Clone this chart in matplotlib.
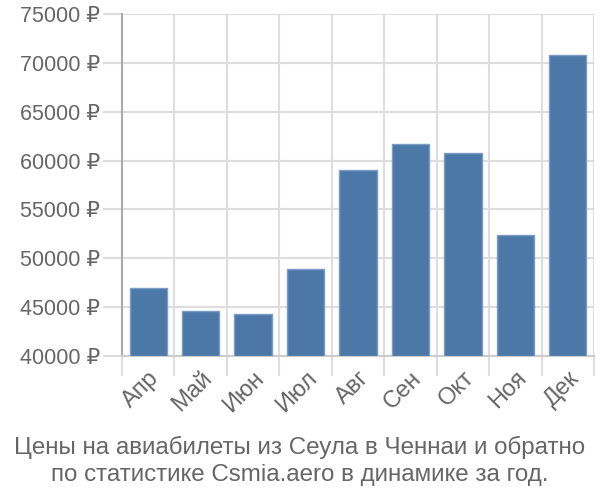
import matplotlib
matplotlib.use('Agg')
import matplotlib.pyplot as plt
import numpy as np

months = ['Апр', 'Май', 'Июн', 'Июл', 'Авг', 'Сен', 'Окт', 'Ноя', 'Дек']
prices = [47000, 44600, 44300, 48900, 59000, 61700, 60800, 52400, 70800]
yticks = [40000, 45000, 50000, 55000, 60000, 65000, 70000, 75000]
title = 'Цены на авиабилеты из Сеула в Ченнаи и обратно\nпо статистике Csmia.aero в динамике за год.'

plt.rcParams['font.family'] = ['Liberation Sans', 'DejaVu Sans']
TXT = '#666666'
GRID = '#dddddd'

fig = plt.figure(figsize=(6, 5), dpi=100)
ax = fig.add_axes([122 / 600, 1 - 356 / 500, (594 - 122) / 600, (356 - 14) / 500])

x = np.arange(len(months))
ax.bar(x, [p - 40000 for p in prices], bottom=40000, width=0.71,
       color='#4c78a8', edgecolor='#7d9cc4', linewidth=1, zorder=3)

ax.set_xlim(-0.5, len(months) - 0.5)
ax.set_ylim(40000, 75000)
ax.set_yticks(yticks)
ax.set_yticklabels([f'{v} ₽' for v in yticks], color=TXT, fontsize=15.5)
ax.set_xticks(x)
ax.set_xticklabels(months, rotation=45, ha='right', rotation_mode='anchor',
                   color=TXT, fontsize=17)
ax.set_xticks(np.arange(-0.5, len(months)), minor=True)
ax.tick_params(axis='x', which='major', length=0, pad=8)
ax.tick_params(axis='x', which='minor', length=14.4, width=1.5, color=GRID)
ax.tick_params(axis='y', length=13.7, width=1.5, color=GRID, pad=2)
ax.grid(axis='y', color=GRID, linewidth=1.5, zorder=0)
ax.grid(axis='x', which='minor', color=GRID, linewidth=1.5, zorder=0)

for s in ['top', 'right']:
    ax.spines[s].set_visible(False)
ax.spines['bottom'].set_color('#cccccc')
ax.spines['bottom'].set_linewidth(1.5)
ax.spines['left'].set_color('#aaaaaa')
ax.spines['left'].set_linewidth(1.5)
ax.spines['left'].set_bounds(40000, 75000)

fig.text(0.5, 1 - 461 / 500, title, ha='center', va='center', color=TXT,
         fontsize=17.4, linespacing=1.3)

fig.savefig('out.png', dpi=100)
